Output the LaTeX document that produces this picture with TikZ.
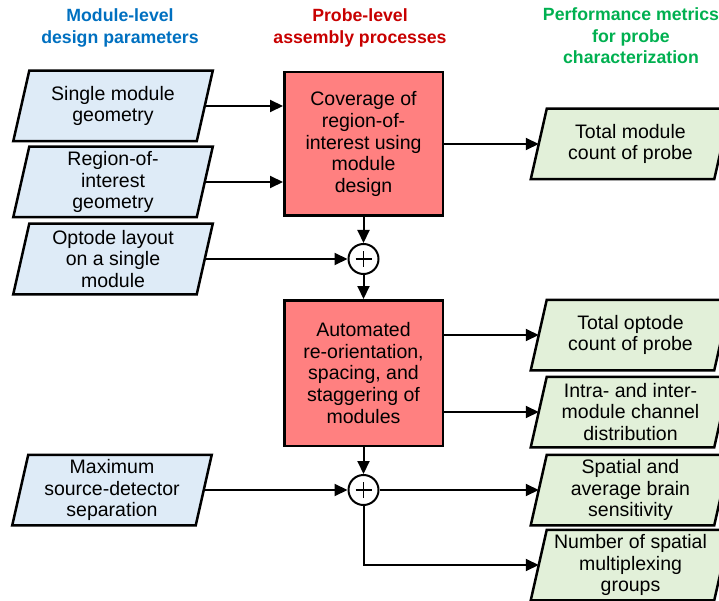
\documentclass[tikz,border=0pt]{standalone}
\usepackage{fontspec}
\setmainfont{Liberation Sans}
\usetikzlibrary{arrows.meta,backgrounds}

\definecolor{hdblue}{RGB}{0,112,192}
\definecolor{hdred}{RGB}{200,0,0}
\definecolor{hdgreen}{RGB}{0,176,80}
\definecolor{paramfill}{RGB}{222,235,247}
\definecolor{metricfill}{RGB}{226,240,217}
\definecolor{procfill}{RGB}{255,128,128}

\tikzset{
  heading/.style={align=center,font=\bfseries\fontsize{17.7}{21.5}\selectfont},
  boxtext/.style={align=center,font=\fontsize{19.5}{21.7}\selectfont},
  slanted/.style={boxtext,inner sep=0pt,outer sep=1.25pt,minimum width=181pt,minimum height=68pt},
  skew/.style={draw,line width=2.5pt,line join=miter},
  procbox/.style={boxtext,draw,line width=2.5pt,fill=procfill,inner sep=0pt,minimum width=158.5pt},
  sumnode/.style={circle,draw,line width=2pt,fill=white,minimum size=30pt,inner sep=0pt,
    path picture={
      \draw[line width=1.6pt] ([xshift=-8pt]path picture bounding box.center)--([xshift=8pt]path picture bounding box.center);
      \draw[line width=1.6pt] ([yshift=-8pt]path picture bounding box.center)--([yshift=8pt]path picture bounding box.center);
    }},
  flow/.style={line width=2pt,-{Triangle[length=13pt,width=12pt]}}
}

\begin{document}
\begin{tikzpicture}[x=1pt,y=-1pt]
\useasboundingbox (0,0) rectangle (719,601);

% column headings
\node[heading,text=hdblue] (hparam) at (120,28) {Module-level\\design parameters};
\node[heading,text=hdred] (hproc) at (360,28) {Probe-level\\assembly processes};
\node[heading,text=hdgreen] (hmetric) at (631,36) {Performance metrics\\for probe\\characterization};

% design parameters
\node[slanted] (geom) at (113,106) {Single module\\geometry};
\node[slanted] (roi) at (113,182) {Region-of-\\interest\\geometry};
\node[slanted] (layout) at (113,259) {Optode layout\\on a single\\module};
\node[slanted] (sdsep) at (112,490) {Maximum\\source-detector\\separation};

% assembly processes
\node[procbox,minimum height=143.5pt] (cover) at (363.5,144) {Coverage of\\region-of-\\interest using\\module\\design};
\node[sumnode] (sumA) at (363.5,259) {};
\node[procbox,minimum height=145.5pt] (orient) at (363.5,373) {Automated\\re-orientation,\\spacing, and\\staggering of\\modules};
\node[sumnode] (sumB) at (363.5,490) {};

% performance metrics
\node[slanted] (modcount) at (630.5,144) {Total module\\count of probe};
\node[slanted] (optcount) at (630.5,335) {Total optode\\count of probe};
\node[slanted] (chandist) at (630.5,412) {Intra- and inter-\\module channel\\distribution};
\node[slanted] (sens) at (630.5,490) {Spatial and\\average brain\\sensitivity};
\node[slanted] (mux) at (630.5,565) {Number of spatial\\multiplexing\\groups};

% parallelogram outlines behind the texts
\begin{scope}[on background layer]
\foreach \n/\c in {geom/paramfill,roi/paramfill,layout/paramfill,sdsep/paramfill,
    modcount/metricfill,optcount/metricfill,chandist/metricfill,sens/metricfill,mux/metricfill}
  \draw[skew,fill=\c] ([xshift=-8pt]\n.south west) -- ([xshift=8pt]\n.north west)
    -- ([xshift=8pt]\n.north east) -- ([xshift=-8pt]\n.south east) -- cycle;
\end{scope}

% connectors
\draw[flow] (geom.east) -- (geom.east -| cover.west);
\draw[flow] (roi.east) -- (roi.east -| cover.west);
\draw[flow] (cover.east) -- (modcount.west);
\draw[flow] (cover.south) -- (sumA.north);
\draw[flow] (layout.east) -- (sumA.west);
\draw[flow] (sumA.south) -- (orient.north);
\draw[flow] (orient.east |- optcount.west) -- (optcount.west);
\draw[flow] (orient.east |- chandist.west) -- (chandist.west);
\draw[flow] (orient.south) -- (sumB.north);
\draw[flow] (sdsep.east) -- (sumB.west);
\draw[flow] (sumB.east) -- (sens.west);
\draw[flow] (sumB.south) |- (mux.west);
\end{tikzpicture}
\end{document}
